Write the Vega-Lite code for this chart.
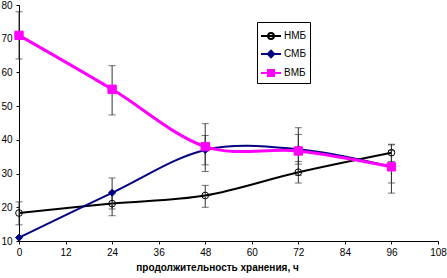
{
  "$schema": "https://vega.github.io/schema/vega-lite/v6.json",
  "width": 419,
  "height": 236,
  "autosize": "none",
  "padding": {"left": 19, "top": 5, "right": 9, "bottom": 37},
  "background": "white",
  "config": {
    "font": "Liberation Sans",
    "view": {"stroke": null},
    "axis": {"grid": false, "domainColor": "black", "tickColor": "black", "labelColor": "black", "labelFontSize": 10, "titleColor": "black", "domainWidth": 1, "tickWidth": 1, "tickSize": 3, "labelPadding": 4, "labelOverlap": false},
    "legend": {"title": null, "strokeColor": "black", "fillColor": "white", "padding": 3, "labelFontSize": 10, "labelColor": "black", "labelOffset": 2, "symbolSize": 400, "symbolStrokeWidth": 2, "symbolOpacity": 1, "rowPadding": -3, "orient": "none", "legendX": 238, "legendY": 17}
  },
  "data": {"values": [
    {"t": 0, "s": "НМБ", "v": 18.3, "lo": 14.8, "hi": 21.6},
    {"t": 24, "s": "НМБ", "v": 21.1, "lo": 17.5, "hi": 24.5},
    {"t": 48, "s": "НМБ", "v": 23.5, "lo": 20, "hi": 26.5},
    {"t": 72, "s": "НМБ", "v": 30.4, "lo": 27.2, "hi": 33.6},
    {"t": 96, "s": "НМБ", "v": 36.2, "lo": 33.6, "hi": 38.7},
    {"t": 0, "s": "СМБ", "v": 11, "lo": null, "hi": null},
    {"t": 24, "s": "СМБ", "v": 24.3, "lo": 19.5, "hi": 28.7},
    {"t": 48, "s": "СМБ", "v": 37, "lo": 32.6, "hi": 41.3},
    {"t": 72, "s": "СМБ", "v": 37.2, "lo": 32.8, "hi": 41.6},
    {"t": 96, "s": "СМБ", "v": 32, "lo": 24.2, "hi": 38.5},
    {"t": 0, "s": "ВМБ", "v": 71, "lo": 64, "hi": 78},
    {"t": 24, "s": "ВМБ", "v": 55, "lo": 47.4, "hi": 62},
    {"t": 48, "s": "ВМБ", "v": 38, "lo": 30.6, "hi": 44.8},
    {"t": 72, "s": "ВМБ", "v": 36.7, "lo": 29.5, "hi": 43.6},
    {"t": 96, "s": "ВМБ", "v": 32, "lo": 27.2, "hi": 36.8}
  ]},
  "encoding": {
    "x": {"field": "t", "type": "quantitative", "scale": {"domain": [0, 108], "nice": false}, "axis": {"values": [0, 12, 24, 36, 48, 60, 72, 84, 96, 108], "title": "продолжительность хранения, ч", "titleFontSize": 10, "titleFontWeight": "bold", "titlePadding": 5, "labelPadding": 3, "labelFlush": false, "labelOverlap": false, "titleX": 198}},
    "y": {"field": "v", "type": "quantitative", "scale": {"domain": [10, 80], "nice": false}, "axis": {"values": [10, 20, 30, 40, 50, 60, 70, 80], "title": null, "labelOverlap": false}}
  },
  "layer": [
    {
      "transform": [{"filter": "datum.s == 'НМБ'"}],
      "mark": {"type": "line", "interpolate": "cardinal", "tension": 0, "stroke": "#000000", "strokeWidth": 2}
    },
    {
      "transform": [{"filter": "datum.s == 'СМБ'"}],
      "mark": {"type": "line", "interpolate": "cardinal", "tension": 0, "stroke": "#000080", "strokeWidth": 2}
    },
    {
      "transform": [{"filter": "datum.s == 'ВМБ'"}],
      "mark": {"type": "line", "interpolate": "cardinal", "tension": 0, "stroke": "#ff00ff", "strokeWidth": 3}
    },
    {
      "transform": [{"filter": "datum.lo != null"}],
      "mark": {"type": "errorbar", "ticks": {"size": 7}, "color": "#333333", "thickness": 1},
      "encoding": {
        "y": {"field": "lo", "type": "quantitative"},
        "y2": {"field": "hi"}
      }
    },
    {
      "transform": [{"filter": "datum.s == 'НМБ'"}],
      "mark": {"type": "point", "shape": "circle", "size": 45, "strokeWidth": 1, "stroke": "#000000", "fill": "transparent", "opacity": 1}
    },
    {
      "transform": [{"filter": "datum.s == 'СМБ'"}],
      "mark": {"type": "point", "shape": "diamond", "size": 50, "strokeWidth": 1, "stroke": "#000080", "fill": "#000080", "opacity": 1}
    },
    {
      "transform": [{"filter": "datum.s == 'ВМБ'"}],
      "mark": {"type": "point", "shape": "square", "size": 70, "strokeWidth": 1, "stroke": "#ff00ff", "fill": "#ff00ff", "opacity": 1}
    },
    {
      "mark": {"type": "point", "opacity": 0},
      "encoding": {
        "shape": {"field": "s", "type": "nominal", "scale": {"domain": ["НМБ", "СМБ", "ВМБ"], "range": ["M-1,0H1M0.29,0A0.29,0.29,0,1,1,-0.29,0A0.29,0.29,0,1,1,0.29,0Z", "M-1,0H1M0,-0.33L0.33,0L0,0.33L-0.33,0Z", "M-1,0H1M-0.3,-0.3H0.3V0.3H-0.3Z"]}, "legend": {"symbolOpacity": 1}},
        "stroke": {"field": "s", "type": "nominal", "scale": {"domain": ["НМБ", "СМБ", "ВМБ"], "range": ["#000000", "#000080", "#ff00ff"]}, "legend": {"symbolOpacity": 1}},
        "fill": {"field": "s", "type": "nominal", "scale": {"domain": ["НМБ", "СМБ", "ВМБ"], "range": ["transparent", "#000080", "#ff00ff"]}, "legend": {"symbolOpacity": 1}}
      }
    }
  ]
}
